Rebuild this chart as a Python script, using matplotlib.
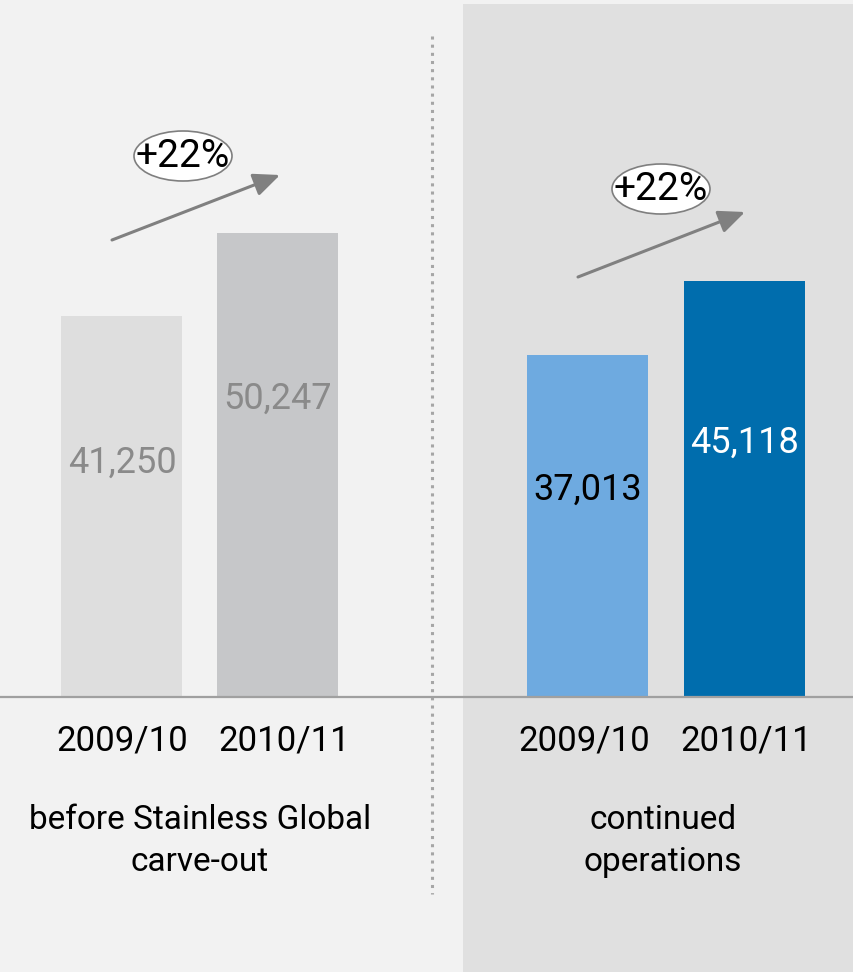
import matplotlib
matplotlib.use("Agg")
import matplotlib.pyplot as plt
from matplotlib.patches import Ellipse, Rectangle

plt.rcParams["font.family"] = ["Roboto", "DejaVu Sans"]

# --- Data ---
periods = ["2009/10", "2010/11", "2009/10", "2010/11"]
values = [41250, 50247, 37013, 45118]
value_labels = ["41,250", "50,247", "37,013", "45,118"]
groups = ["before Stainless Global\ncarve-out", "continued\noperations"]
growth = ["+22%", "+22%"]

# --- Styles ---
bar_colors = ["#dedede", "#c6c7c9", "#6eaae0", "#006dad"]
label_colors = ["#8a8a8a", "#8a8a8a", "#000000", "#ffffff"]
bar_x = [122, 278, 588, 745]      # bar centres, px
bar_w = 121
label_y = [463, 399, 490, 443]    # value label centres, px from top
year_x = [122, 284, 584, 746]
group_x = [200, 663]

W, H = 854, 972
base_px = 697                     # baseline, px from top
scale = 0.00923                   # px per unit

fig = plt.figure(figsize=(W / 100, H / 100), dpi=100)
fig.patch.set_facecolor("#f2f2f2")
ax = fig.add_axes([0, 0, 1, 1])
ax.set_xlim(0, W)
ax.set_ylim(-(H - base_px) / scale, base_px / scale)
ax.axis("off")

def py(p):
    # pixel row -> data y
    return (base_px - p) / scale

# right panel background
ax.add_patch(Rectangle((463, 0), W - 463, (H - 4) / H, transform=ax.get_xaxis_transform(),
                       facecolor="#e0e0e0", edgecolor="none", zorder=0))

# dotted separator
ax.plot([432, 432], [py(36), py(894)], color="#a6a6a6", lw=2.2,
        linestyle=(0, (1, 1.67)), solid_capstyle="butt", zorder=1)

# bars
ax.bar(bar_x, values, width=bar_w, color=bar_colors, zorder=2)

# baseline
ax.axhline(0, color="#a0a0a0", lw=1.6, zorder=3)

for x, ly, lab, c in zip(bar_x, label_y, value_labels, label_colors):
    ax.text(x, py(ly), lab, ha="center", va="center", fontsize=26, color=c, zorder=4)

for x, p in zip(year_x, periods):
    ax.text(x, py(741), p, ha="center", va="center", fontsize=25, color="black")

for x, g in zip(group_x, groups):
    ax.text(x, py(841), g, ha="center", va="center", fontsize=24, color="black",
            linespacing=1.38)

# growth arrows and ellipses
arrows = [((112, 240), (280, 175)), ((578, 277), (745, 212))]
ell_c = [(183, 156), (661, 189)]
for (s, e), c, gtxt in zip(arrows, ell_c, growth):
    ax.annotate("", xy=(e[0], py(e[1])), xytext=(s[0], py(s[1])),
                arrowprops=dict(arrowstyle="-|>,head_length=1.6,head_width=0.7",
                                color="#808080", lw=2.2, shrinkA=0, shrinkB=0),
                zorder=5)
    ax.add_patch(Ellipse((c[0], py(c[1])), 98, 50 / scale, facecolor="white",
                         edgecolor="#7f7f7f", lw=1.2, zorder=6))
    ax.text(c[0], py(c[1]), gtxt, ha="center", va="center", fontsize=28,
            color="black", zorder=7)

fig.savefig("out.png", dpi=100, facecolor=fig.get_facecolor())
